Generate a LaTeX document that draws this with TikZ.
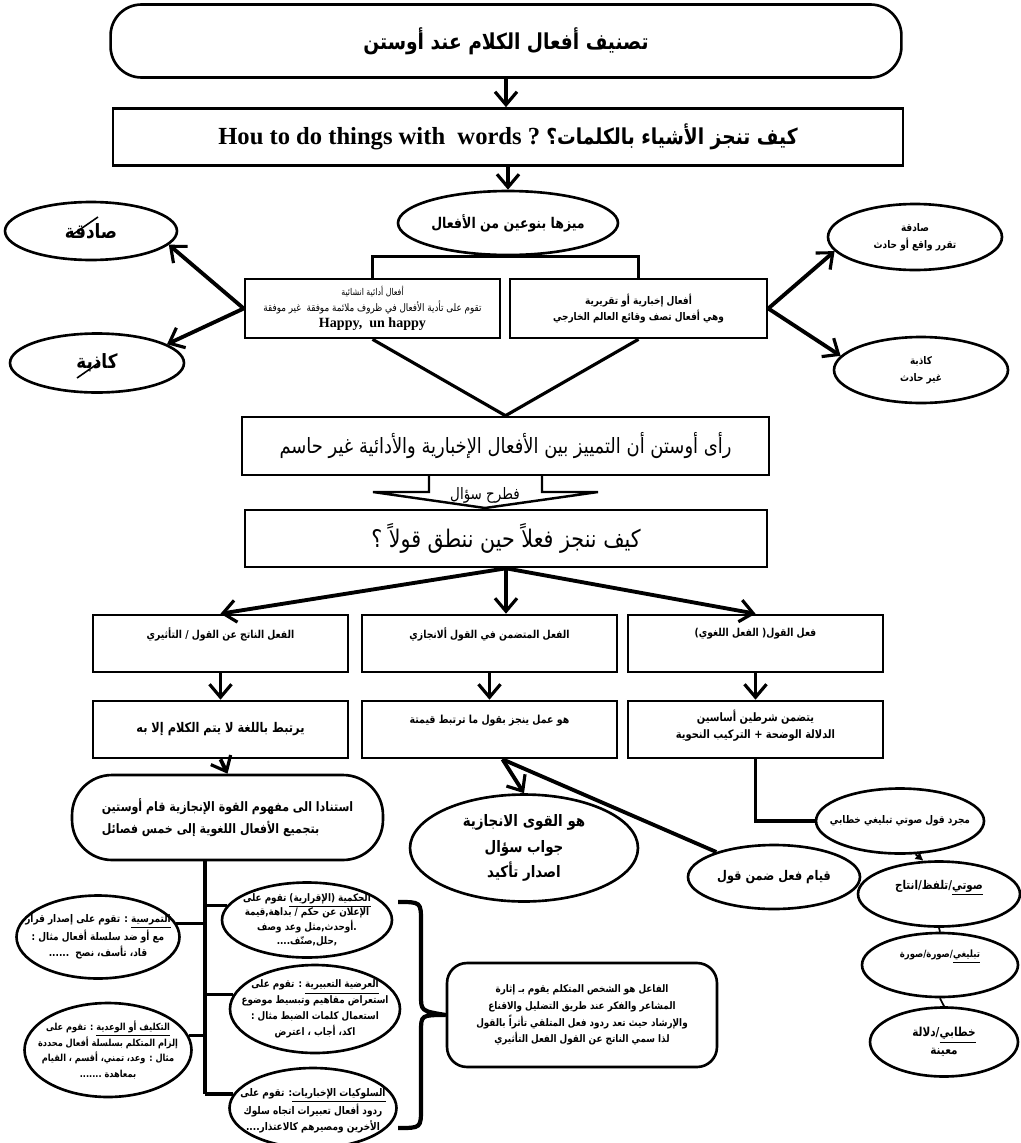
\documentclass[tikz,border=0pt]{standalone}
\usepackage{fontspec}
\setmainfont{Liberation Serif}
\newfontfamily\arabicfont[Script=Arabic,FakeStretch=0.85]{DejaVu Sans}
\TeXXeTstate=1
\usetikzlibrary{shapes.geometric,arrows.meta,calc}

\begin{document}
\begin{tikzpicture}
		[x=0.02cm,y=-0.02cm,
		box/.style={draw,line width=1.5pt,inner sep=0pt,align=center},
		oval/.style={draw,ellipse,line width=1.5pt,inner sep=0pt},
		lbl/.style={align=center,inner sep=0pt},
		fz/.style 2 args={font=\arabicfont\bfseries\fontsize{#1}{#2}\selectfont},
		fr/.style 2 args={font=\arabicfont\fontsize{#1}{#2}\selectfont},
		arr/.style={line width=2.2pt,-{Straight Barb[length=2.6mm,width=4.4mm,line width=1.8pt]}},
		link/.style={line width=2.2pt},
		thinline/.style={line width=0.9pt}]

		\useasboundingbox (0,0) rectangle (1021,1143);

		% top part
		\node[box,rounded corners=0.62cm,minimum width=15.82cm,minimum height=1.46cm,fz={12.5}{16}] (title) at (506,41) {\beginR تصنيف أفعال الكلام عند أوستن\endR};
		\node[box,minimum width=15.8cm,minimum height=1.14cm,font=\bfseries\fontsize{14}{16}\selectfont] (how) at (508,137)
			{\beginR{\arabicfont\fontsize{12.5}{16}\selectfont كيف تنجز الأشياء بالكلمات؟} \beginL Hou to do things with\ \ words ?\endL\endR};
		\node[oval,minimum width=4.4cm,minimum height=1.28cm,label={[lbl,fz={8.4}{10}]center:\beginR ميزها بنوعين من الأفعال\endR}] (kinds) at (508,223) {};

		\draw[arr] (title.south) -- (title.south |- how.north);
		\draw[arr] (how.south) -- (how.south |- kinds.north);

		\node[box,minimum width=5.1cm,minimum height=1.18cm,fr={5.9}{9}] (perf) at (372.5,308.5)
			{{\fontsize{5.3}{8}\selectfont\beginR أفعال أدائية انشائية\endR}\\\beginR تقوم على تأدية الأفعال في ظروف ملائمة موفقة\ \ غير موفقة\endR\\{\rmfamily\bfseries\fontsize{8}{9}\selectfont Happy,\ \ un happy}};
		\node[box,minimum width=5.14cm,minimum height=1.18cm,fz={6}{9.5}] (const) at (638.5,308.5)
			{\beginR أفعال إخبارية أو تقريرية\endR\\\beginR وهي أفعال تصف وقائع العالم الخارجي\endR};
		\draw[line width=1.5pt] (perf.north) |- (kinds.south) -| (const.north);

		\node[oval,minimum width=3.44cm,minimum height=1.16cm,label={[lbl,fz={11.2}{14}]center:\beginR صادقة\endR}] (trueL) at (91,231) {};
		\node[oval,minimum width=3.48cm,minimum height=1.18cm,label={[lbl,fz={11.2}{14}]center:\beginR كاذبة\endR}] (falseL) at (97,363) {};
		\draw[thinline] (trueL) ++(-19,4) -- ++(26,-18);
		\draw[thinline] (falseL) ++(-20,15) -- ++(23,-16);
		\draw[arr] (perf.west) -- (trueL.-10);
		\draw[arr] (perf.west) -- (falseL.15);

		\node[oval,minimum width=3.48cm,minimum height=1.32cm,label={[lbl,fz={6}{9.5}]center:\beginR صادقة\endR\\\beginR تقرر واقع أو حادث\endR}] (trueR) at (915,237) {};
		\node[oval,minimum width=3.48cm,minimum height=1.32cm,label={[lbl,fz={6}{9.5}]center:\beginR كاذبة\endR\\\beginR غير حادث\endR}] (falseR) at (921,370) {};
		\draw[arr] (const.east) -- (trueR.190);
		\draw[arr] (const.east) -- (falseR.170);

		% middle part
		\node[box,minimum width=10.54cm,minimum height=1.16cm,fr={12}{14}] (seen) at (505.5,446)
			{\beginR رأى أوستن أن التمييز بين الأفعال الإخبارية والأدائية غير حاسم\endR};
		\draw[line width=1.8pt] (perf.south) -- (seen.north) -- (const.south);

		\node[fr={9}{10}] (ask) at (485,495) {\beginR فطرح سؤال\endR};
		\draw[line width=1.4pt] (429,475) -- (429,492) -- (373,492) -- (485,508) -- (598,492) -- (542,492) -- (542,475);

		\node[box,minimum width=10.44cm,minimum height=1.14cm,fr={13.8}{16}] (question) at (506,538.5)
			{\beginR كيف ننجز فعلاً حين ننطق قولاً ؟\endR};

		\node[box,minimum width=5.1cm,minimum height=1.14cm,label={[lbl,fz={6.2}{8},anchor=north,yshift=-0.28cm]north:\beginR الفعل الناتج عن القول / التأثيري\endR}] (perl) at (220.5,643.5) {};
		\node[box,minimum width=5.1cm,minimum height=1.14cm,label={[lbl,fz={6.2}{8},anchor=north,yshift=-0.28cm]north:\beginR الفعل المتضمن في القول ألانجازي\endR}] (illoc) at (489.5,643.5) {};
		\node[box,minimum width=5.1cm,minimum height=1.14cm,label={[lbl,fz={6.2}{8},anchor=north,yshift=-0.28cm]north:\beginR فعل القول( الفعل اللغوي)\endR}] (locut) at (755.5,643.5) {};
		\draw[arr] (question.south) -- (perl.north);
		\draw[arr] (question.south) -- (question.south |- illoc.north);
		\draw[arr] (question.south) -- (locut.north);

		\node[box,minimum width=5.1cm,minimum height=1.14cm,fz={7.6}{9}] (perl2) at (220.5,729.5) {\beginR يرتبط باللغة لا يتم الكلام إلا به\endR};
		\node[box,minimum width=5.1cm,minimum height=1.14cm,label={[lbl,fz={6.3}{8},anchor=north,yshift=-0.3cm]north:\beginR هو عمل ينجز بقول ما ترتبط قيمتة\endR}] (illoc2) at (489.5,729.5) {};
		\node[box,minimum width=5.1cm,minimum height=1.14cm,label={[lbl,fz={6.6}{9.5},anchor=north,yshift=-0.2cm]north:\beginR يتضمن شرطين أساسين\endR\\\beginR الدلالة الوضحة + التركيب النحوية\endR}] (locut2) at (755.5,729.5) {};
		\draw[arr] (perl) -- (perl2);
		\draw[arr] (illoc) -- (illoc2);
		\draw[arr] (locut) -- (locut2);

		% right branch
		\node[oval,minimum width=4.56cm,minimum height=2.14cm,label={[lbl,fz={9}{14.5}]center:\beginR هو القوى الانجازية\endR\\\beginR جواب سؤال\endR\\\beginR اصدار تأكيد\endR}] (force) at (524,848) {};
		\node[oval,minimum width=3.44cm,minimum height=1.28cm,label={[lbl,fz={7.6}{10}]center:\beginR قيام فعل ضمن قول\endR}] (doing) at (774,877) {};
		\coordinate (split) at ($(illoc2.south)+(13,0)$);
		\draw[arr] (split) -- (force.north);
		\draw[link] (split) -- (doing);

		\node[oval,minimum width=3.36cm,minimum height=1.3cm,label={[lbl,fz={6}{8}]center:\beginR مجرد قول صوتي تبليغي خطابي\endR}] (mere) at (900,821) {};
		\draw[link] (locut2.south) |- (mere.west);
		\node[oval,minimum width=3.24cm,minimum height=1.3cm,label={[lbl,fz={6.9}{9},yshift=0.12cm]center:\beginR\underline{\hbox{\beginR صوتي\endR}}/تلفظ/انتاج\endR}] (phon) at (939,894) {};
		\node[oval,minimum width=3.12cm,minimum height=1.28cm,label={[lbl,fz={5.7}{7},yshift=0.16cm]center:\beginR\underline{\hbox{\beginR تبليغي\endR}}/صورة/صورة\endR}] (phat) at (940,965) {};
		\node[oval,minimum width=2.96cm,minimum height=1.38cm,label={[lbl,fz={7}{10}]center:\beginR\underline{\hbox{\beginR خطابي\endR}}/دلالة\endR\\\beginR معينة\endR}] (rhet) at (944,1042) {};
		\draw[line width=1pt,-{Latex[length=1.6mm,width=1.8mm]}] (mere.-65) -- (phon.115);
		\draw[line width=1pt] (phon.south) -- (phat.north);
		\draw[line width=1pt] (phat.south) -- (rhet.north);

		% five classes
		\node[box,rounded corners=0.8cm,minimum width=6.22cm,minimum height=1.7cm,fz={7.4}{12.5},align=left] (classes) at (227.5,817.5)
			{\beginR استنادا الى مفهوم القوة الإنجازية قام أوستين\endR\\\beginR بتجميع الأفعال اللغوية إلى خمس فصائل\endR};
		\draw[arr] (perl2.south) -- (classes.north);

		\node[oval,minimum width=3.4cm,minimum height=1.5cm,label={[lbl,fz={5.9}{8.3}]center:\beginR\underline{\hbox{\beginR الحكمية (الإقرارية)\endR}} تقوم على\endR\\\beginR الإعلان عن حكم / بداهة,قيمة\endR\\\beginR .أوحدث,مثل وعد وصف\endR\\\beginR ,حلل,صنّف....\endR}] (verdict) at (307,920) {};
		\node[oval,minimum width=3.26cm,minimum height=1.66cm,label={[lbl,fz={6}{9}]center:\beginR\underline{\hbox{\beginR التمرسية\endR}} : تقوم على إصدار قرار\endR\\\beginR مع أو ضد سلسلة أفعال مثال :\endR\\\beginR قاد، تأسف، نصح\ \ ......\endR}] (exerc) at (98,937) {};
		\node[oval,minimum width=3.4cm,minimum height=1.76cm,label={[lbl,fz={5.9}{9}]center:\beginR\underline{\hbox{\beginR العرضية التعبيرية\endR}} : تقوم على\endR\\\beginR استعراض مفاهيم وتبسيط موضوع\endR\\\beginR استعمال كلمات الضبط مثال :\endR\\\beginR اكد، أجاب ، اعترض\endR}] (expos) at (315,1009) {};
		\node[oval,minimum width=3.34cm,minimum height=1.88cm,label={[lbl,fz={5.5}{9}]center:\beginR\underline{\hbox{\beginR التكليف أو الوعدية\endR}} : تقوم على\endR\\\beginR إلزام المتكلم بسلسلة أفعال محددة\endR\\\beginR مثال : وعد، تمني، أقسم ، القيام\endR\\\beginR بمعاهدة .......\endR}] (commis) at (108,1050) {};
		\node[oval,minimum width=3.34cm,minimum height=1.6cm,label={[lbl,fz={6}{9},yshift=-0.05cm]center:\beginR\underline{\hbox{\beginR السلوكيات الإخباريات\endR}}: تقوم على\endR\\\beginR ردود أفعال تعبيرات اتجاه سلوك\endR\\\beginR الأخرين ومصيرهم كالاعتذار....\endR}] (behab) at (313,1108) {};

		\coordinate (trunk) at (205,860);
		\draw[link,line width=1.8pt] (trunk) -- (trunk |- behab.170);
		\draw[link,line width=1.8pt] (trunk |- verdict.170) -- (verdict.170);
		\draw[link,line width=1.8pt] (trunk |- exerc.10) -- (exerc.10);
		\draw[link,line width=1.8pt] (trunk |- expos.170) -- (expos.170);
		\draw[link,line width=1.8pt] (trunk |- commis.10) -- (commis.10);
		\draw[link,line width=1.8pt] (trunk |- behab.170) -- (behab.170);

		\node[box,rounded corners=0.4cm,minimum width=5.4cm,minimum height=2.08cm,fz={5.9}{9.5}] (agent) at (582,1015)
			{\beginR الفاعل هو الشخص المتكلم يقوم بـ إثارة\endR\\\beginR المشاعر والفكر عند طريق التضليل والاقناع\endR\\\beginR والإرشاد حيث تعد ردود فعل المتلقي تأثراً بالقول\endR\\\beginR لذا سمي الناتج عن القول الفعل التأثيري\endR};
		\draw[line width=2.4pt] (398,902) .. controls (421,902) .. (421,922) -- (421,995) .. controls (421,1011) .. (agent.west) .. controls (421,1015) .. (421,1032) -- (421,1108) .. controls (421,1128) .. (398,1128);

	\end{tikzpicture}
\end{document}
